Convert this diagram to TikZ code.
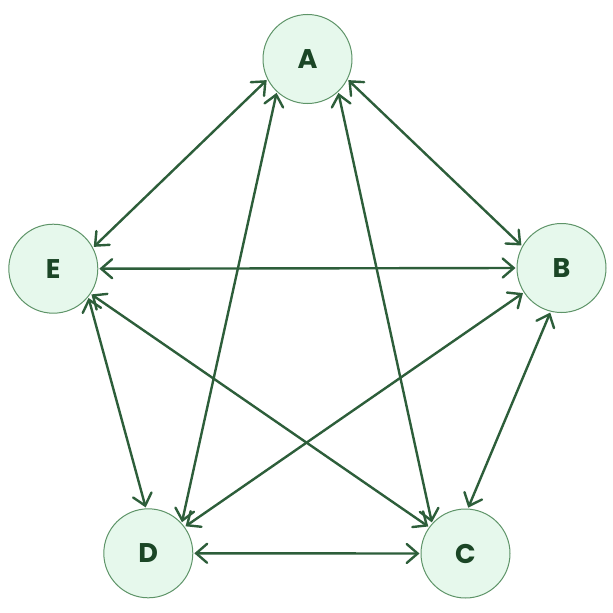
\documentclass[tikz,border=0pt]{standalone}
\usepackage{fontspec}
\setmainfont{Poppins}
\usetikzlibrary{arrows.meta}
\definecolor{nodefill}{HTML}{E6F8EC}
\definecolor{nodeborder}{HTML}{5E9468}
\definecolor{edgecol}{HTML}{2D5E3A}
\definecolor{textcol}{HTML}{1B4626}
\tikzset{
  vert/.style={circle, draw=nodeborder, fill=nodefill, line width=1pt, minimum size=89pt, inner sep=0pt,
    text=textcol, font=\fontsize{27}{30}\selectfont\bfseries},
  barb/.tip={Straight Barb[length=11pt,width=19pt,line cap=round]},
  link/.style={draw=edgecol, line width=2.4pt, barb-barb, shorten <=1pt, shorten >=1pt}
}
\begin{document}
\begin{tikzpicture}[x=1pt,y=-1pt]
\useasboundingbox (0,0) rectangle (613,613);
\node[vert] (A) at (307.5,59) {A};
\node[vert] (B) at (561.5,268) {B};
\node[vert] (C) at (465.5,553.5) {C};
\node[vert] (D) at (148.3,553.3) {D};
\node[vert] (E) at (53.3,268.7) {E};
\draw[link] (A.207) -- (E.28);
\draw[link] (A.333) -- (B.151);
\draw[link] (A.227) -- (D.42);
\draw[link] (A.313) -- (C.138);
\draw[link] (E.0) -- (B.180);
\draw[link] (E.326) -- (C.144);
\draw[link] (E.321) -- (D.93);
\draw[link] (B.213) -- (D.36);
\draw[link] (B.256) -- (C.87);
\draw[link] (D.0) -- (C.180);
\end{tikzpicture}
\end{document}
